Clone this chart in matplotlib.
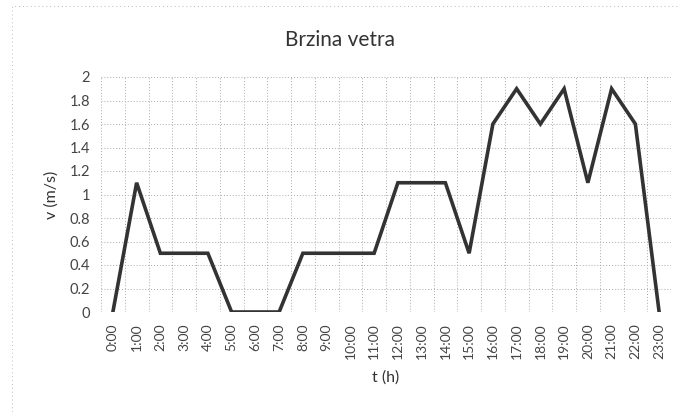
import matplotlib.pyplot as plt
from matplotlib.patches import Rectangle

plt.rcParams['font.family'] = ['Lato', 'DejaVu Sans']

hours = ['%d:00' % h for h in range(24)]
speed = [0, 1.1, 0.5, 0.5, 0.5, 0, 0, 0, 0.5, 0.5, 0.5, 0.5,
         1.1, 1.1, 1.1, 0.5, 1.6, 1.9, 1.6, 1.9, 1.1, 1.9, 1.6, 0]
y_ticks = [0, 0.2, 0.4, 0.6, 0.8, 1, 1.2, 1.4, 1.6, 1.8, 2]
y_labels = ['0', '0.2', '0.4', '0.6', '0.8', '1', '1.2', '1.4', '1.6', '1.8', '2']

fig = plt.figure(figsize=(6.8, 4.12), dpi=100, facecolor='white')
ax = fig.add_axes([101/680, 1 - 312/412, 570/680, 235/412])

x = list(range(len(hours)))
ax.plot(x, speed, color='#333333', lw=2.6, solid_joinstyle='miter', zorder=3)

ax.set_xlim(-0.5, len(hours) - 0.5)
ax.set_ylim(0, 2)
ax.set_xticks(x)
ax.set_xticklabels(hours, rotation=90, fontsize=10, color='#444444')
ax.set_yticks(y_ticks)
ax.set_yticklabels(y_labels, fontsize=10.5, color='#444444')
ax.tick_params(length=0, pad=8)

# grid lines: horizontal at ticks, vertical between categories
for yv in y_ticks:
    ax.axhline(yv, color='#aaaaaa', lw=0.7, ls=(0, (1, 2)), zorder=1)
for xv in range(len(hours) + 1):
    ax.axvline(xv - 0.5, color='#aaaaaa', lw=0.7, ls=(0, (1, 2)), zorder=1)
for s in ax.spines.values():
    s.set_visible(False)

ax.set_xlabel('t (h)', fontsize=11.5, color='#333333', labelpad=8)
ax.set_ylabel('v (m/s)', fontsize=11.5, color='#333333', labelpad=8)
fig.text(0.5, 1 - 40/412, 'Brzina vetra', ha='center', va='center',
         fontsize=15, color='#333333')

fig.patches.append(Rectangle((12/680, 0), 668/680, 1 - 6/412, transform=fig.transFigure,
                             fill=False, ec='#bbbbbb', lw=0.7, ls=(0, (1, 3))))

fig.savefig('out.png', dpi=100)
